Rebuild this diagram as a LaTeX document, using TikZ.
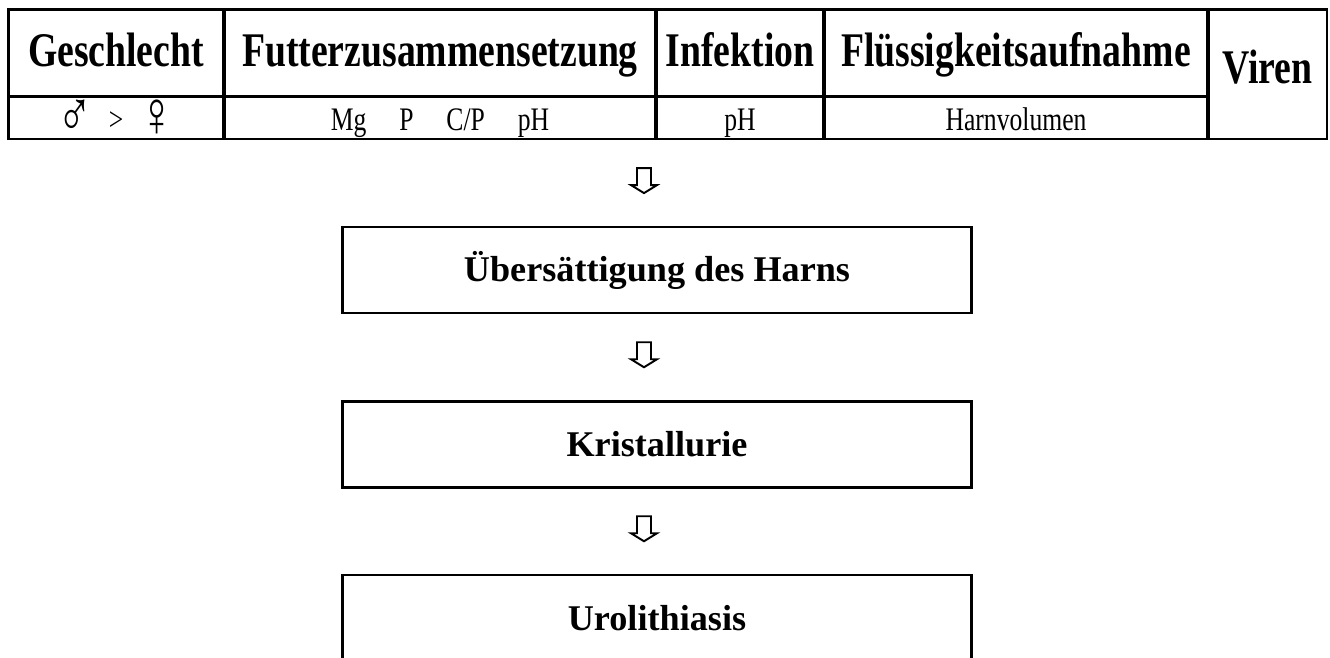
\documentclass[tikz,border=0pt]{standalone}
\usepackage{fontspec}
\setmainfont{Liberation Serif}
\newfontfamily\tabfont{Liberation Serif}[FakeStretch=0.78]
\newfontfamily\symfont{Liberation Serif}[FakeStretch=0.72]
\usetikzlibrary{calc}

\tikzset{
  cell/.style={draw,line width=1.7pt,inner sep=0pt,minimum height=1.74cm},
  headcell/.style={cell,font=\tabfont\bfseries\fontsize{27.5}{30}\selectfont,
    text height=0.7cm,text depth=0.16cm},
  bodycell/.style={cell,minimum height=0.86cm,font=\tabfont\fontsize{18.7}{20}\selectfont,
    text height=0.6cm,text depth=0.1cm},
  stepbox/.style={draw,line width=1.5pt,inner sep=0pt,minimum width=12.58cm,minimum height=1.72cm,
    font=\bfseries\fontsize{20.6}{22}\selectfont},
  hollowarrow/.style={draw,line width=1.1pt,line join=miter}
}
\newcommand\sexsym[1]{\raisebox{-0.12cm}{\symfont\fontsize{37}{37}\selectfont #1}}

\begin{document}
\begin{tikzpicture}[x=0.02cm,y=-0.02cm]
  \useasboundingbox (0,0) rectangle (1330,657);
  \clip (0,0) rectangle (1330,657);

  % table of factors
  \node[headcell,minimum width=4.32cm] (geschlecht) at (116,52.5) {Geschlecht};
  \node[headcell,minimum width=8.64cm] (futter) at (440,52.5) {Futterzusammensetzung};
  \node[headcell,minimum width=3.36cm] (infektion) at (740,52.5) {Infektion};
  \node[headcell,minimum width=7.68cm] (fluessig) at (1016,52.5) {Flüssigkeitsaufnahme};
  \node[headcell,minimum width=2.38cm,minimum height=2.6cm,text height=0.6cm,text depth=0.24cm]
    (viren) at (1267.5,74) {Viren};

  \node[bodycell,minimum width=4.32cm] (sexwert) at (116,117.5)
    {\sexsym{♂}\enspace>\enspace\sexsym{♀}};
  \node[bodycell,minimum width=8.64cm] (futterwert) at (440,117.5) {Mg\quad P\quad C/P\quad pH};
  \node[bodycell,minimum width=3.36cm] (infektwert) at (740,117.5) {pH};
  \node[bodycell,minimum width=7.68cm] (fluessigwert) at (1016,117.5) {Harnvolumen};

  % steps
  \node[stepbox] (uebers) at (657,270) {Übersättigung des Harns};
  \node[stepbox] (kristall) at (657,444.5) {Kristallurie};
  \node[stepbox] (uro) at (657,618) {Urolithiasis};

  \foreach \src/\dst in {futterwert/uebers, uebers/kristall, kristall/uro}
    \draw[hollowarrow] ($(\dst.north |- \src.south)!0.5!(\dst.north)$) ++(-20,-15)
      -- ++(0,17) -- ++(-6,0) -- ++(13,8) -- ++(13,-8) -- ++(-6,0) -- ++(0,-17) -- cycle;
\end{tikzpicture}
\end{document}
